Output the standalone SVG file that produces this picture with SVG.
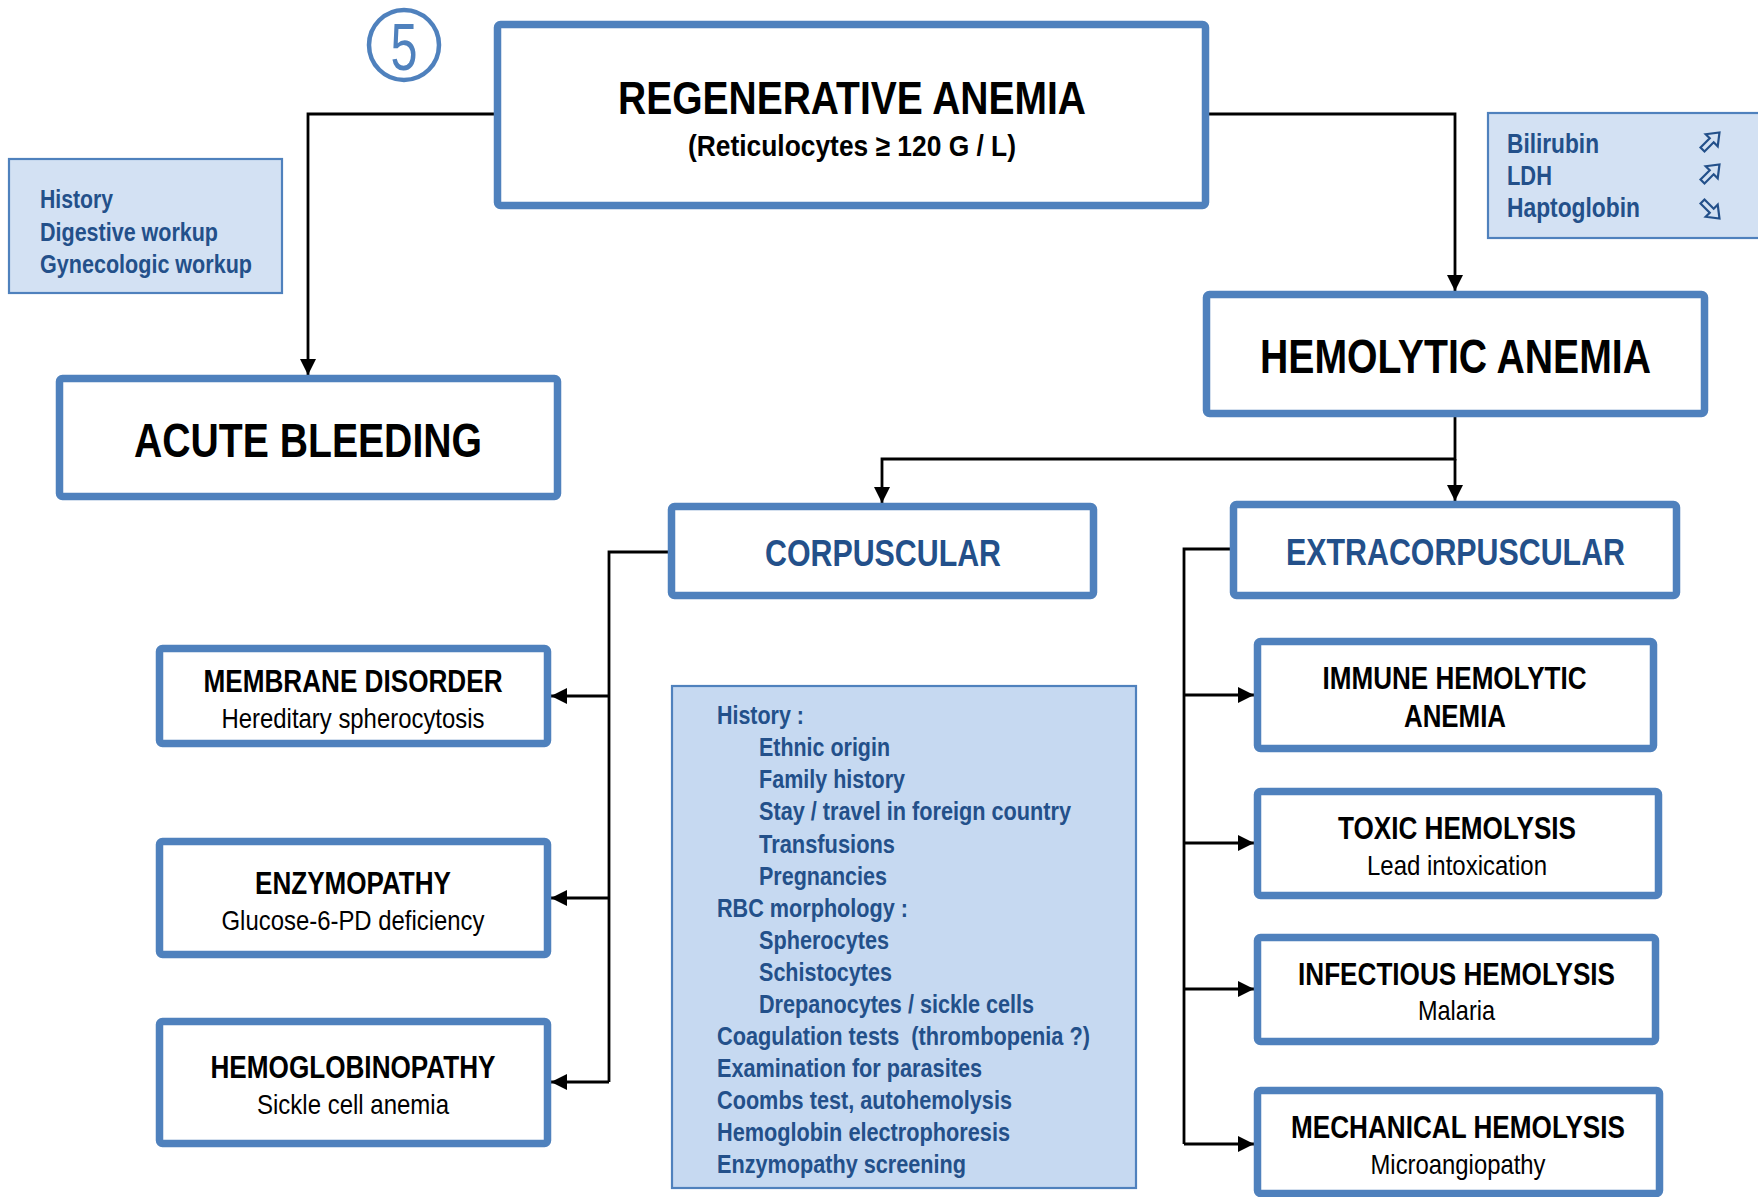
<svg xmlns="http://www.w3.org/2000/svg" width="1758" height="1197" viewBox="0 0 1758 1197">
  <style>
    .box { fill: #ffffff; stroke: #4f81bd; stroke-width: 7.5; }
    .info { fill: #d3e1f3; stroke: #4f81bd; stroke-width: 2.2; }
    .info2 { fill: #c6d9f1; stroke: #4f81bd; stroke-width: 2.2; }
    .wire { fill: none; stroke: #000000; stroke-width: 2.8; }
    .t { font-family: "Liberation Sans", Arial, sans-serif; font-weight: bold; fill: #000000; text-anchor: middle; }
    .s { font-family: "Liberation Sans", Arial, sans-serif; font-weight: normal; fill: #000000; text-anchor: middle; }
    .b { font-family: "Liberation Sans", Arial, sans-serif; font-weight: bold; fill: #23508a; }
    .bc { font-family: "Liberation Sans", Arial, sans-serif; font-weight: bold; fill: #23508a; text-anchor: middle; }
    .arr { fill: none; stroke: #23508a; stroke-width: 2.2; stroke-linejoin: miter; }
  </style>
  <defs>
    <marker id="head" markerUnits="userSpaceOnUse" markerWidth="16" markerHeight="16" viewBox="0 0 16 16" refX="16" refY="8" orient="auto">
      <path d="M0,0 L16,8 L0,16 z" fill="#000000"/>
    </marker>
    <polygon id="blockArrow" points="-12,-2.8 1,-2.8 1,-8.5 12,0 1,8.5 1,2.8 -12,2.8"/>
  </defs>

  <rect width="1758" height="1197" fill="#ffffff"/>

  <!-- connectors -->
  <g id="connectors">
    <path class="wire" d="M494,114 H308 V375" marker-end="url(#head)"/>
    <path class="wire" d="M1209,114 H1455 V291" marker-end="url(#head)"/>
    <path class="wire" d="M1455,417 V459 H882 V503" marker-end="url(#head)"/>
    <path class="wire" d="M1455,459 V501" marker-end="url(#head)"/>
    <path class="wire" d="M668,552 H609 V1082"/>
    <path class="wire" d="M609,696 H551" marker-end="url(#head)"/>
    <path class="wire" d="M609,898 H551" marker-end="url(#head)"/>
    <path class="wire" d="M609,1082 H551" marker-end="url(#head)"/>
    <path class="wire" d="M1230,549 H1184 V1144"/>
    <path class="wire" d="M1184,695 H1254" marker-end="url(#head)"/>
    <path class="wire" d="M1184,843 H1254" marker-end="url(#head)"/>
    <path class="wire" d="M1184,989 H1254" marker-end="url(#head)"/>
    <path class="wire" d="M1184,1144 H1254" marker-end="url(#head)"/>
  </g>

  <!-- step number -->
  <g id="step">
    <circle cx="404" cy="45" r="35" fill="#ffffff" stroke="#4f81bd" stroke-width="4.5"/>
    <text x="404" y="70" class="s" style="fill:#4f81bd" font-size="66" textLength="27" lengthAdjust="spacingAndGlyphs">5</text>
  </g>

  <g id="regenerative">
    <rect class="box" x="497.5" y="24.5" width="708" height="181" rx="3"/>
    <text class="t" x="852" y="114" font-size="46" textLength="468" lengthAdjust="spacingAndGlyphs">REGENERATIVE ANEMIA</text>
    <text class="t" x="852" y="156" font-size="30" textLength="328" lengthAdjust="spacingAndGlyphs">(Reticulocytes ≥ 120 G / L)</text>
  </g>

  <g id="bleeding-workup">
    <rect class="info" x="9" y="159" width="273" height="134"/>
    <text class="b" x="40" y="208" font-size="25" textLength="73" lengthAdjust="spacingAndGlyphs">History</text>
    <text class="b" x="40" y="240.5" font-size="25" textLength="178" lengthAdjust="spacingAndGlyphs">Digestive workup</text>
    <text class="b" x="40" y="273" font-size="25" textLength="212" lengthAdjust="spacingAndGlyphs">Gynecologic workup</text>
  </g>

  <g id="hemolysis-markers">
    <rect class="info" x="1488" y="113" width="272" height="125"/>
    <text class="b" x="1507" y="153" font-size="27" textLength="92" lengthAdjust="spacingAndGlyphs">Bilirubin</text>
    <text class="b" x="1507" y="185" font-size="27" textLength="45" lengthAdjust="spacingAndGlyphs">LDH</text>
    <text class="b" x="1507" y="217" font-size="27" textLength="133" lengthAdjust="spacingAndGlyphs">Haptoglobin</text>
    <use href="#blockArrow" class="arr" transform="translate(1711,141) rotate(-45)"/>
    <use href="#blockArrow" class="arr" transform="translate(1711,173) rotate(-45)"/>
    <use href="#blockArrow" class="arr" transform="translate(1711,210) rotate(45)"/>
  </g>

  <g id="acute-bleeding">
    <rect class="box" x="59.5" y="378.5" width="498" height="118" rx="3"/>
    <text class="t" x="308" y="457" font-size="48" textLength="348" lengthAdjust="spacingAndGlyphs">ACUTE BLEEDING</text>
  </g>

  <g id="hemolytic">
    <rect class="box" x="1206.5" y="294.5" width="498" height="119" rx="3"/>
    <text class="t" x="1455.5" y="373" font-size="48" textLength="391" lengthAdjust="spacingAndGlyphs">HEMOLYTIC ANEMIA</text>
  </g>

  <g id="corpuscular">
    <rect class="box" x="671.5" y="506.5" width="422" height="89" rx="3"/>
    <text class="bc" x="883" y="566" font-size="37" textLength="236" lengthAdjust="spacingAndGlyphs">CORPUSCULAR</text>
  </g>

  <g id="extracorpuscular">
    <rect class="box" x="1233.5" y="504.5" width="443" height="91" rx="3"/>
    <text class="bc" x="1455.5" y="565" font-size="37" textLength="339" lengthAdjust="spacingAndGlyphs">EXTRACORPUSCULAR</text>
  </g>

  <g id="membrane">
    <rect class="box" x="159.5" y="648.5" width="388" height="95" rx="3"/>
    <text class="t" x="353" y="692" font-size="32" textLength="299" lengthAdjust="spacingAndGlyphs">MEMBRANE DISORDER</text>
    <text class="s" x="353" y="728" font-size="28" textLength="263" lengthAdjust="spacingAndGlyphs">Hereditary spherocytosis</text>
  </g>

  <g id="enzymopathy">
    <rect class="box" x="159.5" y="841.5" width="388" height="113" rx="3"/>
    <text class="t" x="353" y="894" font-size="32" textLength="196" lengthAdjust="spacingAndGlyphs">ENZYMOPATHY</text>
    <text class="s" x="353" y="930" font-size="28" textLength="263" lengthAdjust="spacingAndGlyphs">Glucose-6-PD deficiency</text>
  </g>

  <g id="hemoglobinopathy">
    <rect class="box" x="159.5" y="1021.5" width="388" height="122" rx="3"/>
    <text class="t" x="353" y="1078" font-size="32" textLength="285" lengthAdjust="spacingAndGlyphs">HEMOGLOBINOPATHY</text>
    <text class="s" x="353" y="1114" font-size="28" textLength="192" lengthAdjust="spacingAndGlyphs">Sickle cell anemia</text>
  </g>

  <g id="investigations">
    <rect class="info2" x="672" y="686" width="464" height="502"/>
    <g font-size="26">
      <text class="b" x="717" y="724" textLength="87" lengthAdjust="spacingAndGlyphs">History :</text>
      <text class="b" x="759" y="756" textLength="131" lengthAdjust="spacingAndGlyphs">Ethnic origin</text>
      <text class="b" x="759" y="788" textLength="146" lengthAdjust="spacingAndGlyphs">Family history</text>
      <text class="b" x="759" y="820" textLength="312" lengthAdjust="spacingAndGlyphs">Stay / travel in foreign country</text>
      <text class="b" x="759" y="852.5" textLength="136" lengthAdjust="spacingAndGlyphs">Transfusions</text>
      <text class="b" x="759" y="884.5" textLength="128" lengthAdjust="spacingAndGlyphs">Pregnancies</text>
      <text class="b" x="717" y="916.5" textLength="191" lengthAdjust="spacingAndGlyphs">RBC morphology :</text>
      <text class="b" x="759" y="949" textLength="130" lengthAdjust="spacingAndGlyphs">Spherocytes</text>
      <text class="b" x="759" y="981" textLength="133" lengthAdjust="spacingAndGlyphs">Schistocytes</text>
      <text class="b" x="759" y="1013" textLength="275" lengthAdjust="spacingAndGlyphs">Drepanocytes / sickle cells</text>
      <text class="b" x="717" y="1045" textLength="373" lengthAdjust="spacingAndGlyphs" style="white-space:pre">Coagulation tests  (thrombopenia ?)</text>
      <text class="b" x="717" y="1077" textLength="265" lengthAdjust="spacingAndGlyphs">Examination for parasites</text>
      <text class="b" x="717" y="1109" textLength="295" lengthAdjust="spacingAndGlyphs">Coombs test, autohemolysis</text>
      <text class="b" x="717" y="1141" textLength="293" lengthAdjust="spacingAndGlyphs">Hemoglobin electrophoresis</text>
      <text class="b" x="717" y="1173" textLength="249" lengthAdjust="spacingAndGlyphs">Enzymopathy screening</text>
    </g>
  </g>

  <g id="immune">
    <rect class="box" x="1257.5" y="641.5" width="396" height="107" rx="3"/>
    <text class="t" x="1454.5" y="689" font-size="32" textLength="264" lengthAdjust="spacingAndGlyphs">IMMUNE HEMOLYTIC</text>
    <text class="t" x="1455" y="727" font-size="32" textLength="102" lengthAdjust="spacingAndGlyphs">ANEMIA</text>
  </g>

  <g id="toxic">
    <rect class="box" x="1257.5" y="791.5" width="401" height="104" rx="3"/>
    <text class="t" x="1457" y="839" font-size="32" textLength="238" lengthAdjust="spacingAndGlyphs">TOXIC HEMOLYSIS</text>
    <text class="s" x="1457" y="875" font-size="28" textLength="180" lengthAdjust="spacingAndGlyphs">Lead intoxication</text>
  </g>

  <g id="infectious">
    <rect class="box" x="1257.5" y="937.5" width="398" height="104" rx="3"/>
    <text class="t" x="1456.5" y="985" font-size="32" textLength="317" lengthAdjust="spacingAndGlyphs">INFECTIOUS HEMOLYSIS</text>
    <text class="s" x="1456.5" y="1020" font-size="28" textLength="77" lengthAdjust="spacingAndGlyphs">Malaria</text>
  </g>

  <g id="mechanical">
    <rect class="box" x="1257.5" y="1090.5" width="402" height="103" rx="3"/>
    <text class="t" x="1458" y="1138" font-size="32" textLength="334" lengthAdjust="spacingAndGlyphs">MECHANICAL HEMOLYSIS</text>
    <text class="s" x="1458" y="1174" font-size="28" textLength="175" lengthAdjust="spacingAndGlyphs">Microangiopathy</text>
  </g>
</svg>
